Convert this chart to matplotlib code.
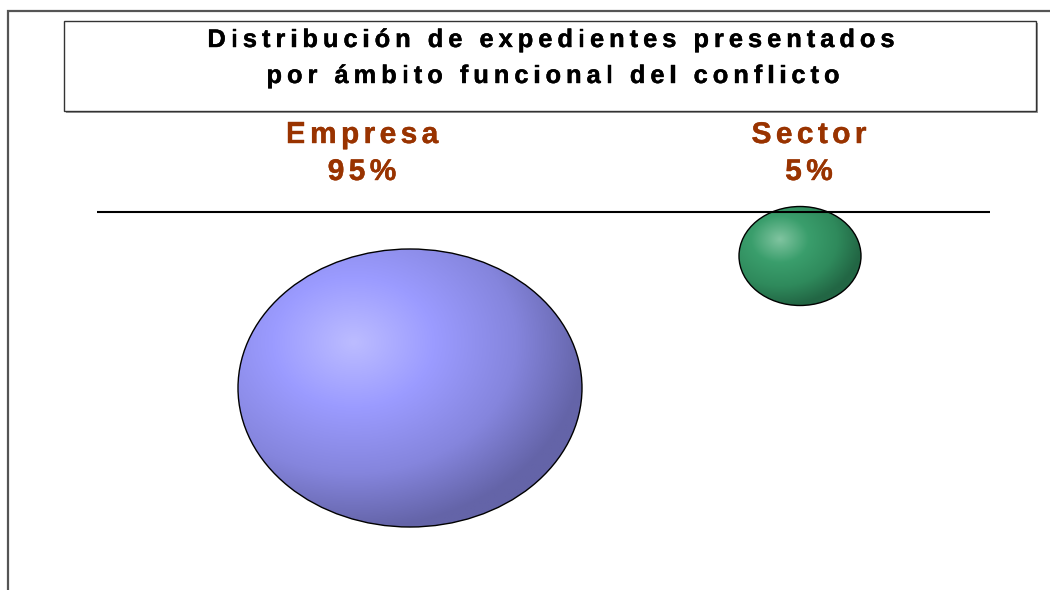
import numpy as np
import matplotlib
matplotlib.use("Agg")
import matplotlib.pyplot as plt
import matplotlib.patheffects as pe
from matplotlib.patches import Ellipse, Rectangle
from matplotlib.colors import LinearSegmentedColormap
from matplotlib.font_manager import FontProperties
from matplotlib.textpath import TextToPath

plt.rcParams["font.family"] = ["Liberation Sans", "DejaVu Sans"]

# data
title_lines = ["Distribución de expedientes presentados",
               "por ámbito funcional del conflicto"]
categories = ["Empresa", "Sector"]
percentages = [95, 5]

# layout (pixels of a 1050x590 canvas)
W, H = 1050, 590
label_x = [362, 809]
bubble_w = [344, 122]
bubble_h = [278, 99]
colors = [["#bcbcff", "#9b9bff", "#8585dd", "#6464a8"],
          ["#80c4a0", "#3a9e6c", "#2f8a5c", "#226644"]]
label_color = "#993300"

t2p = TextToPath()


def spaced_text(ax, x, y, s, size, gap, color):
    # draw a string one glyph at a time with extra letter spacing (in px)
    prop = FontProperties(family="Liberation Sans", weight="bold", size=size)
    widths = []
    for ch in s:
        w, _, _ = t2p.get_text_width_height_descent(ch, prop, ismath=False)
        widths.append(w * 100 / 72)
    total = sum(widths) + gap * (len(s) - 1)
    pos = x - total / 2
    for ch, w in zip(s, widths):
        ax.text(pos, y, ch, ha="left", va="baseline", fontproperties=prop,
                color=color,
                path_effects=[pe.withStroke(linewidth=0.3, foreground=color)])
        pos += w + gap


fig = plt.figure(figsize=(W / 100, H / 100), dpi=100)
bg = fig.add_axes([0, 0, 1, 1])
bg.set_xlim(0, W)
bg.set_ylim(H, 0)
bg.axis("off")

# outer frame
bg.plot([8, 8, W], [H, 11, 11], color="#555555", lw=1.6, solid_joinstyle="miter")
# title box with small shadow
bg.add_patch(Rectangle((66, 23), 972, 90, facecolor="#999999", edgecolor="none"))
bg.add_patch(Rectangle((64, 21), 972, 90, facecolor="white", edgecolor="#333333", lw=1.0))
spaced_text(bg, 551, 47, title_lines[0], 18.3, 5.0, "black")
spaced_text(bg, 553, 83, title_lines[1], 18.3, 5.0, "black")

for cat, pct, lx in zip(categories, percentages, label_x):
    spaced_text(bg, lx, 143, cat, 21.5, 4.4, label_color)
    spaced_text(bg, lx, 180, f"{pct}%", 21.5, 4.4, label_color)

# bubble plot area: x = category index, y = percentage (inverted)
ax_left, ax_right, ax_top, line_y = 97, 990, 190, 212
ax = fig.add_axes([ax_left / W, 0, (ax_right - ax_left) / W, (H - ax_top) / H])
px_per_x = 390.0
x0_px = 410.0
px_per_y = (388 - 256) / (percentages[0] - percentages[1])
y0_px = 256 - percentages[1] * px_per_y
ax.axis("off")
ax.patch.set_alpha(0)

n = 300
u, v = np.meshgrid(np.linspace(-1, 1, n), np.linspace(-1, 1, n))
dist = np.sqrt((u + 0.33) ** 2 + (v + 0.33) ** 2) / 1.35
dist = np.clip(dist, 0, 1)

for i, pct in enumerate(percentages):
    cx = i
    cy = pct
    w = bubble_w[i] / px_per_x
    h = bubble_h[i] / px_per_y
    cmap = LinearSegmentedColormap.from_list(
        f"b{i}", list(zip([0, 0.35, 0.7, 1], colors[i])))
    ell = Ellipse((cx, cy), w, h, facecolor="none", edgecolor="black", lw=1.0, zorder=3)
    ax.add_patch(ell)
    im = ax.imshow(dist, cmap=cmap, vmin=0, vmax=1, origin="upper",
                   extent=(cx - w / 2, cx + w / 2, cy + h / 2, cy - h / 2),
                   aspect="auto", interpolation="bilinear", zorder=2)
    im.set_clip_path(ell)

ax.axhline((line_y - y0_px) / px_per_y, color="black", lw=1.5, zorder=5)
ax.set_xlim((ax_left - x0_px) / px_per_x, (ax_right - x0_px) / px_per_x)
ax.set_ylim((H - y0_px) / px_per_y, (ax_top - y0_px) / px_per_y)

fig.savefig("out.png", dpi=100)
